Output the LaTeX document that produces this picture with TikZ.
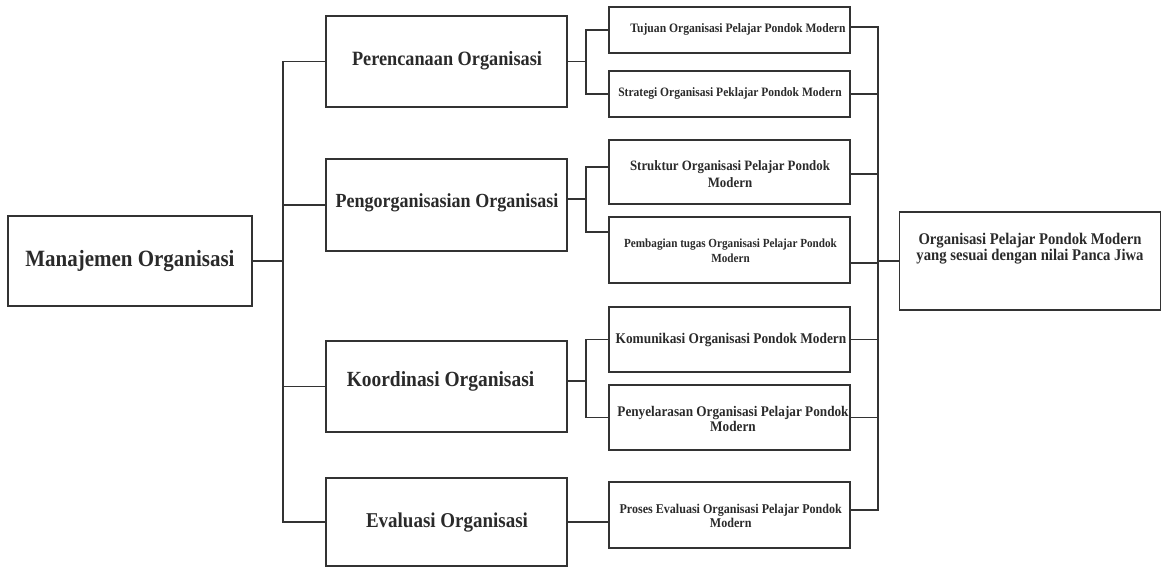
\documentclass[tikz,border=0pt]{standalone}
\usepackage{fontspec}
\setmainfont{Liberation Serif}
\newfontfamily\cf[FakeStretch=0.9]{Liberation Serif}
\definecolor{lc}{HTML}{333333}
\definecolor{tc}{HTML}{2A2A2A}
\newcommand{\fsz}[2]{\cf\fontsize{#1bp}{#2bp}\selectfont\bfseries}
\begin{document}
\begin{tikzpicture}[x=1bp,y=-1bp,
  box/.style={draw=lc, line width=1.8bp, inner sep=0pt, minimum width=241bp},
  lbl/.style={text=tc, align=center, inner sep=0pt},
  conn/.style={draw=lc, line width=1.8bp, line join=miter}]
\useasboundingbox (0,0) rectangle (1163,568);
% boxes
\node[box, minimum width=244bp, minimum height=90bp] (main) at (130,261) {};
\node[box, minimum height=91bp] (per) at (446.5,61.5) {};
\node[box, minimum height=92bp] (peng) at (446.5,205) {};
\node[box, minimum height=91bp] (koor) at (446.5,386.5) {};
\node[box, minimum height=88bp] (eva) at (446.5,522) {};
\node[box, minimum height=46bp] (tuj) at (729.5,30) {};
\node[box, minimum height=46bp] (str) at (729.5,94) {};
\node[box, minimum height=64bp] (stk) at (729.5,172) {};
\node[box, minimum height=66bp] (pem) at (729.5,250) {};
\node[box, minimum height=65bp] (kom) at (729.5,339.5) {};
\node[box, minimum height=65bp] (pen) at (729.5,417.5) {};
\node[box, minimum height=66bp] (pro) at (729.5,515) {};
\node[box, minimum width=261bp, minimum height=98bp] (fin) at (1030,261) {};
% texts
\node[lbl, font=\fsz{23.3}{26}] (mainT) at (130,261) {Manajemen Organisasi};
\node[lbl, font=\fsz{20.3}{23}] (perT) at (447,61) {Perencanaan Organisasi};
\node[lbl, font=\fsz{20}{23}] (pengT) at (447,203) {Pengorganisasian Organisasi};
\node[lbl, font=\fsz{21.6}{24}] (koorT) at (440.5,381) {Koordinasi Organisasi};
\node[lbl, font=\fsz{21.1}{24}] (evaT) at (447,523) {Evaluasi Organisasi};
\node[lbl, font=\fsz{12.9}{15}] (tujT) at (738,29) {Tujuan Organisasi Pelajar Pondok Modern};
\node[lbl, font=\fsz{12.8}{15}] (strT) at (730,93) {Strategi Organisasi Peklajar Pondok Modern};
\node[lbl, font=\fsz{14.3}{17}] (stkT) at (730,174.5) {Struktur Organisasi Pelajar Pondok\\Modern};
\node[lbl, font=\fsz{12.4}{15}] (pemT) at (730.5,250.5) {Pembagian tugas Organisasi Pelajar Pondok\\Modern};
\node[lbl, font=\fsz{14.8}{15}] (komT) at (731,340) {Komunikasi Organisasi Pondok Modern};
\node[lbl, font=\fsz{14.7}{15}] (penT) at (733,418.5) {Penyelarasan Organisasi Pelajar Pondok\\Modern};
\node[lbl, font=\fsz{13.4}{14}] (proT) at (730.7,516) {Proses Evaluasi Organisasi Pelajar Pondok\\Modern};
\node[lbl, font=\fsz{16.3}{14.3}] (finT) at (1030,249) {Organisasi Pelajar Pondok Modern\\yang sesuai dengan nilai Panca Jiwa};
% bus positions
\coordinate (bL) at (283,0);
\coordinate (bA) at (586,0);
\coordinate (bR) at (878,0);
% left tree
\draw[conn] (main.east) -- (main.east -| bL);
\draw[conn] (per.west) -- (bL |- per.west) -- (bL |- eva.west) -- (eva.west);
\draw[conn] (bL |- peng.west) -- (peng.west);
\draw[conn] (bL |- koor.west) -- (koor.west);
% sub trees
\coordinate (pengR) at ([yshift=6bp]peng.east);
\coordinate (koorR) at ([yshift=5.5bp]koor.east);
\coordinate (stkL) at ([yshift=5bp]stk.west);
\coordinate (pemL) at ([yshift=18bp]pem.west);
\draw[conn] (per.east) -- (bA |- per.east);
\draw[conn] (tuj.west) -- (bA |- tuj.west) -- (bA |- str.west) -- (str.west);
\draw[conn] (pengR) -- (bA |- pengR);
\draw[conn] (stkL) -- (bA |- stkL) -- (bA |- pemL) -- (pemL);
\draw[conn] (koorR) -- (bA |- koorR);
\draw[conn] (kom.west) -- (bA |- kom.west) -- (bA |- pen.west) -- (pen.west);
\draw[conn] (eva.east) -- (eva.east -| pro.west);
% right bus
\coordinate (tujR) at ([yshift=3bp]tuj.east);
\coordinate (stkR) at ([yshift=-2bp]stk.east);
\coordinate (pemR) at ([yshift=-13bp]pem.east);
\coordinate (proR) at ([yshift=5bp]pro.east);
\draw[conn] (tujR) -- (bR |- tujR) -- (bR |- proR) -- (proR);
\draw[conn] (str.east) -- (bR |- str.east);
\draw[conn] (stkR) -- (bR |- stkR);
\draw[conn] (pemR) -- (bR |- pemR);
\draw[conn] (kom.east) -- (bR |- kom.east);
\draw[conn] (pen.east) -- (bR |- pen.east);
\draw[conn] (bR |- fin.west) -- (fin.west);
\end{tikzpicture}
\end{document}
